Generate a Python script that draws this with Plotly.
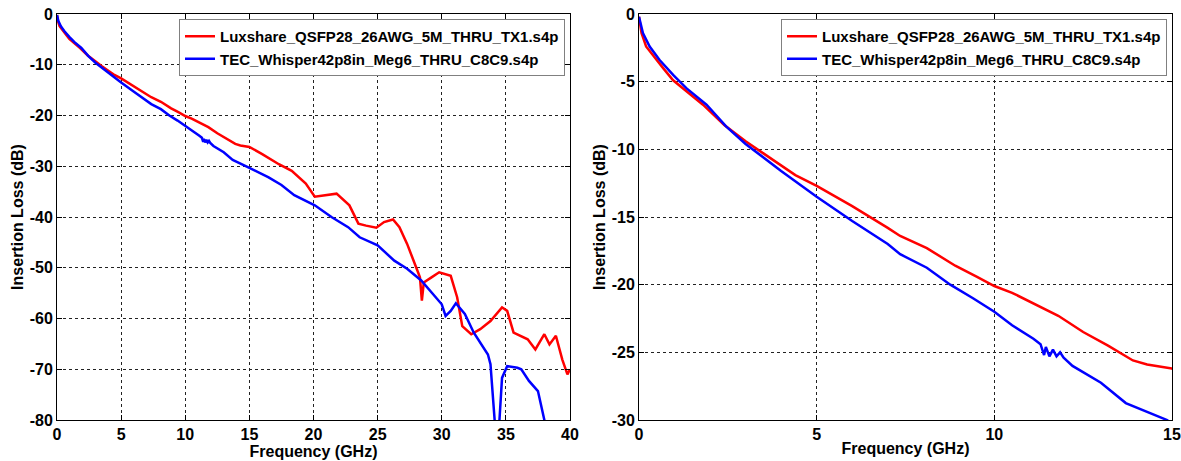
import plotly.graph_objects as go

# ---- data ----
red_name = "Luxshare_QSFP28_26AWG_5M_THRU_TX1.s4p"
blue_name = "TEC_Whisper42p8in_Meg6_THRU_C8C9.s4p"

red_f = [0.0, 0.07, 0.2, 0.4, 0.68, 0.96, 1.34, 1.8, 2.4, 3.0, 3.5, 4.0, 4.4, 5.0, 6.0, 7.0, 7.35,
         8.1, 8.9, 9.5, 10.0, 10.5, 11.1, 11.8, 12.5, 13.2, 13.9, 14.3, 15.0, 16.0, 17.3, 18.3,
         19.4, 20.1, 20.9, 21.8, 22.8, 23.5, 24.1, 24.9, 25.5, 26.2, 26.7, 27.3, 28.0, 28.3,
         28.45, 28.6, 29.2, 29.8, 30.7, 31.2, 31.6, 32.3, 33.0, 33.8, 34.7, 35.1, 35.6, 36.7,
         37.3, 38.0, 38.4, 38.9, 39.4, 39.8, 40.0]
red_db = [-0.2, -1.4, -2.4, -3.1, -4.0, -4.9, -5.7, -6.7, -8.2, -9.4, -10.3, -11.2, -11.9, -12.7,
          -14.2, -15.8, -16.4, -17.3, -18.6, -19.4, -20.1, -20.6, -21.4, -22.3, -23.5, -24.5,
          -25.6, -25.9, -26.2, -27.6, -29.6, -30.9, -33.4, -36.0, -35.7, -35.4, -37.7, -41.3,
          -41.7, -42.1, -41.0, -40.5, -42.0, -45.3, -49.9, -51.9, -56.5, -52.9, -51.9, -50.9,
          -51.6, -55.8, -61.5, -63.1, -62.1, -60.5, -57.8, -58.5, -62.8, -64.1, -66.1, -63.1,
          -65.1, -63.4, -68.1, -71.0, -70.0]

blue_f = [0.0, 0.11, 0.3, 0.58, 0.96, 1.34, 1.9, 2.45, 3.0, 3.5, 4.0, 5.0, 6.0, 7.0, 7.35, 8.1,
          8.76, 9.4, 10.0, 10.5, 11.1, 11.3, 11.4, 11.45, 11.55, 11.65, 11.75, 11.85, 11.95,
          12.2, 13.0, 13.7, 14.4, 14.86, 15.0, 16.5, 17.5, 18.5, 20.1, 21.4, 22.7, 23.6, 25.0,
          26.3, 27.3, 28.4, 29.4, 30.0, 30.3, 30.7, 31.1, 31.8, 32.5, 33.6, 33.8, 34.1, 34.3,
          34.5, 34.7, 35.1, 35.9, 36.2, 36.8, 37.5, 38.0, 38.3]
blue_db = [-0.2, -1.4, -2.4, -3.4, -4.5, -5.5, -6.7, -8.3, -9.6, -10.6, -11.6, -13.5,
           -15.3, -17.0, -17.75, -18.75, -20.0, -21.0, -22.0, -23.0, -24.0, -24.4, -25.2, -24.6,
           -25.3, -24.8, -25.3, -25.0, -25.4, -26.0, -27.25, -28.75, -29.5, -30.0, -30.3, -32.2,
           -33.7, -35.7, -37.7, -40.0, -42.0, -44.0, -45.6, -48.6, -50.2, -52.5, -55.5, -57.2,
           -59.5, -58.5, -57.0, -59.1, -62.8, -67.1, -69.0, -80.0, -86.0, -80.0, -71.7, -69.4,
           -69.7, -70.0, -72.3, -74.3, -80.0, -86.0]

left_xticks = [0, 5, 10, 15, 20, 25, 30, 35, 40]
left_yticks = [0, -10, -20, -30, -40, -50, -60, -70, -80]
right_xticks = [0, 5, 10, 15]
right_yticks = [0, -5, -10, -15, -20, -25, -30]

W, H = 1181, 461
FONT = "Liberation Sans"

fig = go.Figure()
for xa, ya, lg in (("x", "y", "legend"), ("x2", "y2", "legend2")):
    fig.add_trace(go.Scatter(x=red_f, y=red_db, mode="lines", name=red_name,
                             line=dict(color="#ff0000", width=2.5), xaxis=xa, yaxis=ya, legend=lg))
    fig.add_trace(go.Scatter(x=blue_f, y=blue_db, mode="lines", name=blue_name,
                             line=dict(color="#0000ff", width=2.5), xaxis=xa, yaxis=ya, legend=lg))

tickfont = dict(family=FONT, size=16, color="black", weight="bold")
titlefont = dict(family=FONT, size=16, color="black", weight="bold")

common = dict(showline=True, linecolor="black", linewidth=1, mirror="allticks",
              ticks="inside", ticklen=5, tickcolor="black",
              showgrid=True, gridcolor="#222", griddash="3px,3px", gridwidth=1,
              zeroline=False, tickfont=tickfont, automargin=False,
              ticklabeloverflow="allow")

def xax(dom, rng, ticks, anchor):
    return dict(domain=dom, range=rng, tickvals=ticks, ticktext=[str(t) for t in ticks],
                anchor=anchor, title=dict(text="Frequency (GHz)", font=titlefont, standoff=0),
                **common)

def yax(dom, rng, ticks, anchor):
    return dict(domain=dom, range=rng, tickvals=ticks, ticktext=[str(t) for t in ticks],
                anchor=anchor, title=dict(text="Insertion Loss (dB)", font=titlefont, standoff=2),
                **common)

ydom = [(H - 420) / H, (H - 14) / H]
legfont = dict(family=FONT, size=15, color="black", weight="bold")
fig.update_layout(
    width=W, height=H, margin=dict(l=0, r=0, t=0, b=0),
    paper_bgcolor="white", plot_bgcolor="white",
    xaxis=xax([57 / W, 570 / W], [0, 40], left_xticks, "y"),
    yaxis=yax(ydom, [-80, 0], left_yticks, "x"),
    xaxis2=xax([639 / W, 1172 / W], [0, 15], right_xticks, "y2"),
    yaxis2=yax(ydom, [-30, 0], right_yticks, "x2"),
    legend=dict(x=565 / W, y=1 - 19 / H, xanchor="right", yanchor="top",
                bgcolor="white", bordercolor="#808080", borderwidth=1,
                font=legfont, tracegroupgap=0, itemwidth=30),
    legend2=dict(x=1167 / W, y=1 - 19 / H, xanchor="right", yanchor="top",
                 bgcolor="white", bordercolor="#808080", borderwidth=1,
                 font=legfont, tracegroupgap=0, itemwidth=30),
    showlegend=True,
)

fig.write_html("out.html")
